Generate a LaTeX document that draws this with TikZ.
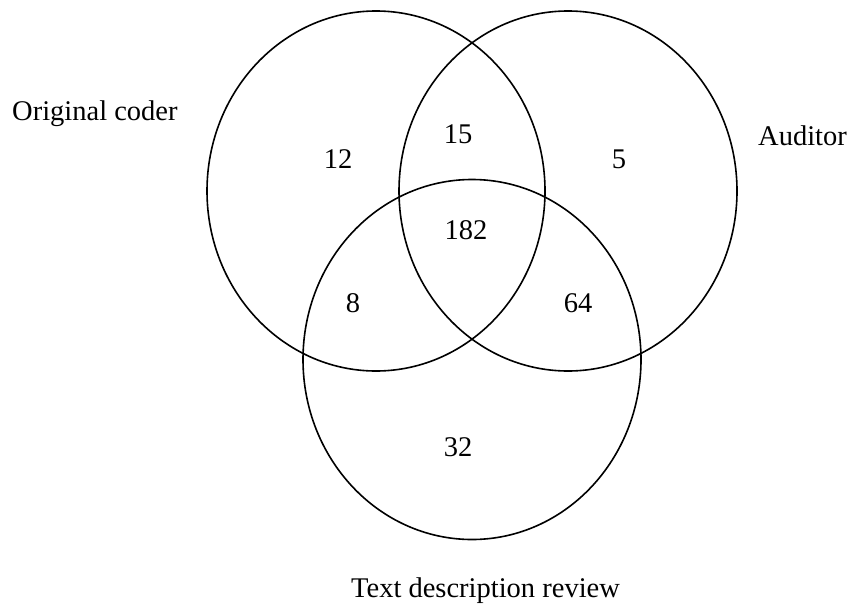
\documentclass[tikz,border=0pt]{standalone}
\usepackage{fontspec}
\setmainfont{Liberation Serif}
\usetikzlibrary{shapes.geometric}
\begin{document}
\begin{tikzpicture}[x=1pt,y=-1pt,
  setshape/.style={draw=black, line width=1.6pt, ellipse, inner sep=0pt,
    minimum width=338pt, minimum height=360pt},
  num/.style={font=\fontsize{28.5}{34}\selectfont, inner sep=0pt, anchor=center},
  lab/.style={font=\fontsize{28.5}{34}\selectfont, inner sep=0pt, anchor=base west}]
\useasboundingbox (0,0) rectangle (853,610);
\node[setshape] (coder) at (376,191) {};
\node[setshape] (auditor) at (568,191) {};
\node[setshape] (review) at (472,359.5) {};
\node[lab] (lcoder) at (12,120) {Original coder};
\node[lab] (laud) at (758,145) {Auditor};
\node[lab] (lrev) at (351,597) {Text description review};
\node[num] (n12) at (338,159) {12};
\node[num] (n15) at (458,134) {15};
\node[num] (n5) at (619,159) {5};
\node[num] (n182) at (466,230) {182};
\node[num] (n8) at (353,303) {8};
\node[num] (n64) at (578,303) {64};
\node[num] (n32) at (458,447) {32};
\end{tikzpicture}
\end{document}
